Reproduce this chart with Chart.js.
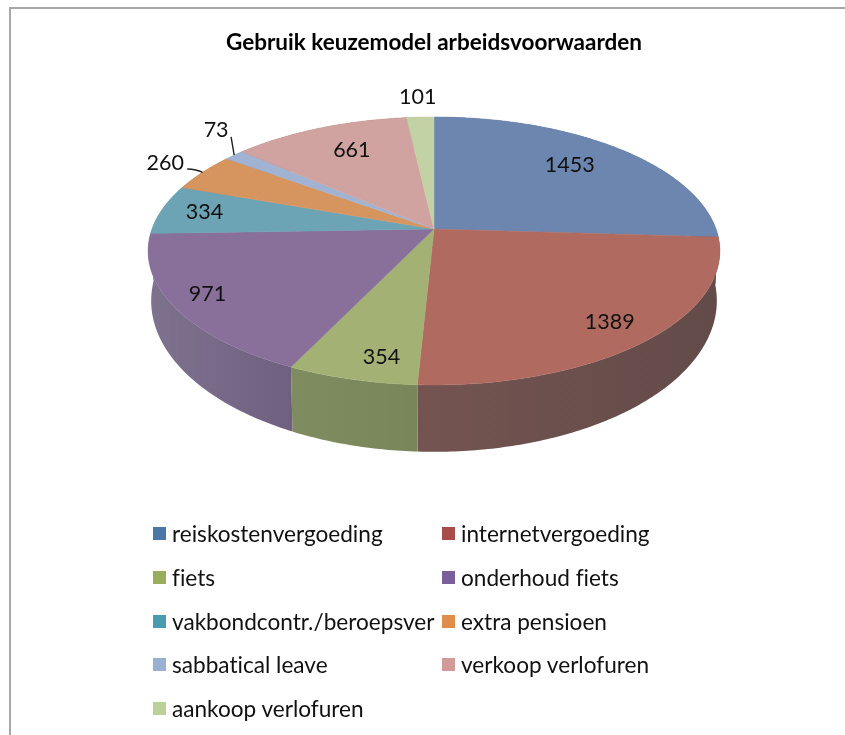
<!DOCTYPE html>
<html lang="nl">
<head>
<meta charset="utf-8">
<title>Gebruik keuzemodel arbeidsvoorwaarden</title>
<script src="https://cdn.jsdelivr.net/npm/chart.js@4"></script>
<style>
  html, body { margin: 0; padding: 0; background: #fff; overflow: hidden; }
  #wrap { position: relative; width: 845px; height: 735px; filter: blur(0.45px); }
  #chart { position: absolute; left: 0; top: 0; }
  .rand-top { position: absolute; left: 9px; top: 7px; right: 0; height: 2px; background: #a4a8a8; }
  .rand-links { position: absolute; left: 9px; top: 7px; bottom: 0; width: 2px; background: #a8a8a8; }
  #legenda {
    position: absolute; left: 153px; top: 512px;
    display: grid; grid-template-columns: 289px 289px; grid-auto-rows: 43.7px;
    font: 22.6px Lato, sans-serif; color: #111; font-variant-ligatures: none;
  }
  #legenda div { display: flex; align-items: center; white-space: nowrap; }
  #legenda i { display: block; width: 13px; height: 13px; margin-right: 6px; }
</style>
</head>
<body>
<div id="wrap">
  <canvas id="chart" width="845" height="735"></canvas>
  <div class="rand-top"></div>
  <div class="rand-links"></div>
  <div id="legenda"></div>
</div>
<script>
// === DATA ===
const categories = ['reiskostenvergoeding', 'internetvergoeding', 'fiets', 'onderhoud fiets',
  'vakbondcontr./beroepsver', 'extra pensioen', 'sabbatical leave', 'verkoop verlofuren', 'aankoop verlofuren'];
const values = [1453, 1389, 354, 971, 334, 260, 73, 661, 101];

// === KLEUREN ===
const topColors = ['#6d86af', '#b06a60', '#a3b274', '#88709a', '#6ca3b5', '#d6955f', '#a0b3d2', '#d0a2a0', '#c3d2a5'];
const legendColors = ['#4a76a8', '#a94b4a', '#98ae5d', '#7a5f9a', '#4a9baf', '#e08c4a', '#9ab0d3', '#d39a9a', '#bcd19a'];
// side wall colour at slice start and slice end
const sideColors = [
  ['#505c73', '#505c73'],
  ['#624b49', '#745450'],
  ['#78865a', '#7e8c60'],
  ['#706080', '#7e728e'],
  ['#6e828c', '#6e828c'],
  ['#8c6e55', '#8c6e55'],
  ['#6e788c', '#6e788c'],
  ['#8c7373', '#8c7373'],
  ['#828c73', '#828c73']
];
// back slices first, the front wall goes over them
const sideOrder = [4, 5, 6, 7, 8, 0, 1, 2, 3];

// === LABELS: verschuiving t.o.v. het punt op 80% van de straal ===
const labelNudge = [[-15, 2], [9, 7], [11, 12], [-23, 4], [-11, -1], [-81, -20], [-55, -39], [12, 4], [-5, -40]];
// leader line: start relative to the label, and how far the curve drops at its bend
const leaders = { 5: [22, 6, 0.1], 6: [15, 7, 0.6] };

// === PERSPECTIEF VAN DE SCHIJF ===
const persp = 0.164;
const topDisc = { a: 282, b: 130.4, drop: 0 };
const bottomDisc = { a: 279, b: 147, drop: 47 };

function project(arc, disc, theta, r) {
  const u = Math.sin(theta) * r;
  const v = -Math.cos(theta) * r;
  const w = 1 / (1 - persp * v);
  return { x: arc.x + disc.a * u * w, y: arc.y + disc.drop + disc.b * v * w };
}

// === 3D TAART TEKENEN ===
const pie3d = {
  id: 'pie3d',
  beforeDatasetDraw(chart) {
    const ctx = chart.ctx;
    const arcs = chart.getDatasetMeta(0).data;
    const clock = a => a + Math.PI / 2;
    ctx.save();

    // side wall first, the top face hides the back part
    sideOrder.forEach(i => {
      const arc = arcs[i];
      const t0 = clock(arc.startAngle), t1 = clock(arc.endAngle);
      const steps = Math.max(4, Math.ceil((t1 - t0) * 80));
      const from = project(arc, topDisc, t0, 1);
      const to = project(arc, topDisc, t1, 1);
      const grad = ctx.createLinearGradient(from.x, 0, to.x, 0);
      grad.addColorStop(0, sideColors[i][0]);
      grad.addColorStop(1, sideColors[i][1]);
      ctx.beginPath();
      for (let s = 0; s <= steps; s++) {
        const p = project(arc, topDisc, t0 + (t1 - t0) * s / steps, 1);
        ctx.lineTo(p.x, p.y);
      }
      for (let s = steps; s >= 0; s--) {
        const p = project(arc, bottomDisc, t0 + (t1 - t0) * s / steps, 1);
        ctx.lineTo(p.x, p.y);
      }
      ctx.closePath();
      ctx.fillStyle = grad;
      ctx.fill();
    });

    // top face
    arcs.forEach((arc, i) => {
      const t0 = clock(arc.startAngle), t1 = clock(arc.endAngle);
      const steps = Math.max(4, Math.ceil((t1 - t0) * 80));
      ctx.beginPath();
      ctx.moveTo(arc.x, arc.y);
      for (let s = 0; s <= steps; s++) {
        const p = project(arc, topDisc, t0 + (t1 - t0) * s / steps, 1);
        ctx.lineTo(p.x, p.y);
      }
      ctx.closePath();
      ctx.fillStyle = topColors[i];
      ctx.strokeStyle = topColors[i];
      ctx.lineWidth = 0.5;
      ctx.fill();
      ctx.stroke();
    });

    // value labels and leader lines
    ctx.font = '21.5px Lato, sans-serif';
    ctx.fillStyle = '#111';
    ctx.textAlign = 'center';
    ctx.textBaseline = 'middle';
    arcs.forEach((arc, i) => {
      const mid = clock((arc.startAngle + arc.endAngle) / 2);
      const base = project(arc, topDisc, mid, 0.8);
      const x = base.x + labelNudge[i][0];
      const y = base.y + labelNudge[i][1];
      ctx.fillText(String(chart.data.datasets[0].data[i]), x, y);
      if (leaders[i]) {
        const rim = project(arc, topDisc, mid, 1);
        const sx = x + leaders[i][0], sy = y + leaders[i][1];
        ctx.beginPath();
        ctx.moveTo(sx, sy);
        ctx.quadraticCurveTo(sx + (rim.x - sx) * 0.6, sy + (rim.y - sy) * leaders[i][2], rim.x, rim.y);
        ctx.strokeStyle = '#222';
        ctx.lineWidth = 1.4;
        ctx.stroke();
      }
    });
    ctx.restore();
    return false; // default flat arcs are not drawn
  }
};

// === CHART ===
const chart = new Chart(document.getElementById('chart').getContext('2d'), {
  type: 'pie',
  data: {
    labels: categories,
    datasets: [{ data: values, backgroundColor: topColors, borderWidth: 0 }]
  },
  options: {
    responsive: false,
    animation: false,
    layout: { padding: { left: 23, bottom: 347 } },
    plugins: {
      legend: { display: false },
      tooltip: { enabled: false },
      title: {
        display: true,
        text: 'Gebruik keuzemodel arbeidsvoorwaarden',
        color: '#000',
        font: { family: 'Lato, sans-serif', size: 22.5, weight: 'bold' },
        padding: { top: 29, bottom: 14 }
      }
    }
  },
  plugins: [pie3d]
});

// === LEGENDA ===
const legenda = document.getElementById('legenda');
chart.data.labels.forEach((label, i) => {
  const item = document.createElement('div');
  const swatch = document.createElement('i');
  swatch.style.background = legendColors[i];
  item.appendChild(swatch);
  item.appendChild(document.createTextNode(label));
  legenda.appendChild(item);
});
</script>
</body>
</html>
